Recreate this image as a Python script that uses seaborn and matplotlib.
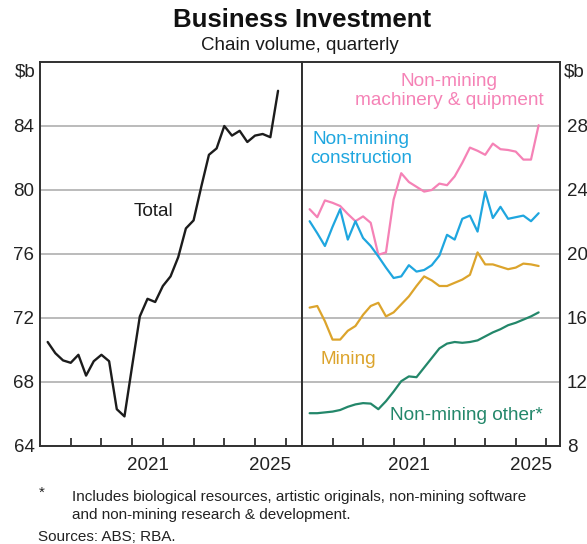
import numpy as np
import pandas as pd
import matplotlib
matplotlib.use("Agg")
import matplotlib.pyplot as plt
import seaborn as sns

# ---------------- data (quarterly, $b chain volume) ----------------
quarters = pd.period_range("2018Q1", "2025Q3", freq="Q")

total = [70.5, 69.8, 69.35, 69.2, 69.7, 68.4, 69.3, 69.7, 69.3, 66.3, 65.85,
         69.0, 72.1, 73.2, 73.0, 74.0, 74.6, 75.8, 77.6, 78.1, 80.2, 82.2,
         82.6, 84.0, 83.4, 83.7, 83.0, 83.4, 83.5, 83.3, 86.2]

machinery = [22.8, 22.3, 23.35, 23.2, 23.0, 22.5, 22.05, 22.35, 21.95, 19.95,
             20.1, 23.4, 25.05, 24.5, 24.2, 23.9, 24.0, 24.4, 24.3, 24.85,
             25.7, 26.65, 26.45, 26.2, 26.9, 26.55, 26.5, 26.4, 25.9, 25.9, 28.05]

construction = [22.05, 21.3, 20.5, 21.7, 22.8, 20.9, 22.05, 21.0, 20.5, 19.85,
                19.15, 18.5, 18.6, 19.3, 18.9, 19.0, 19.3, 19.9, 21.2, 20.9,
                22.2, 22.4, 21.4, 23.9, 22.25, 22.95, 22.2, 22.3, 22.4, 22.05, 22.55]

mining = [16.65, 16.75, 15.8, 14.65, 14.65, 15.2, 15.5, 16.2, 16.75, 16.95,
          16.1, 16.35, 16.85, 17.35, 18.0, 18.6, 18.35, 18.0, 18.0, 18.2,
          18.4, 18.7, 20.1, 19.35, 19.35, 19.2, 19.05, 19.15, 19.4, 19.35, 19.25]

other = [10.05, 10.05, 10.1, 10.15, 10.25, 10.45, 10.6, 10.68, 10.65, 10.3,
         10.8, 11.4, 12.05, 12.35, 12.3, 12.9, 13.5, 14.1, 14.4, 14.5,
         14.45, 14.5, 14.6, 14.85, 15.1, 15.3, 15.55, 15.7, 15.9, 16.1, 16.35]

left_yticks = [64, 68, 72, 76, 80, 84]
right_yticks = [8, 12, 16, 20, 24, 28]
year_labels = ["2021", "2025"]

series_names = ["Non-mining machinery & equipment", "Non-mining construction",
                "Mining", "Non-mining other"]
colors = {"Non-mining machinery & equipment": "#f582b6",
          "Non-mining construction": "#1fa6df",
          "Mining": "#dca42c",
          "Non-mining other": "#23876a"}

# quarter-end in decimal years
xq = [q.year + q.quarter * 0.25 for q in quarters]

df_left = pd.DataFrame({"date": xq, "value": total})
df_right = pd.concat([
    pd.DataFrame({"date": xq, "value": vals, "series": name})
    for name, vals in zip(series_names, [machinery, construction, mining, other])
], ignore_index=True)

# ---------------- style ----------------
sns.set_style("white")
plt.rcParams["font.family"] = ["Liberation Sans", "DejaVu Sans"]

W, H = 587, 544
fig = plt.figure(figsize=(W / 100, H / 100), dpi=100)


def fx(px):
    return px / W


def fy(py):
    return 1 - py / H


axL = fig.add_axes([fx(40), fy(446), fx(262), (446 - 62) / H])
axR = fig.add_axes([fx(302), fy(446), fx(258), (446 - 62) / H])

sns.lineplot(data=df_left, x="date", y="value", ax=axL, color="#1c1c1c",
             linewidth=1.7)
sns.lineplot(data=df_right, x="date", y="value", hue="series",
             hue_order=series_names, palette=colors, ax=axR, legend=False,
             linewidth=1.6)

tick_color = "#222222"
grid_color = "#b5b5b5"
spine_color = "#303030"

for ax, xmax in ((axL, 2026.53), (axR, 2026.45)):
    ax.set_xlim(2018.0, xmax)
    ax.set_xlabel("")
    ax.set_ylabel("")
    ax.set_xticks(list(range(2019, 2027)))
    ax.set_xticklabels([])
    ax.set_xticks([2021.5, 2025.5], minor=True)
    ax.set_xticklabels(year_labels, minor=True)
    ax.tick_params(axis="x", which="major", direction="in", length=6,
                   width=1.3, color=spine_color, bottom=True, top=False)
    ax.tick_params(axis="x", which="minor", length=0, pad=8,
                   labelsize=13.5, labelcolor=tick_color)
    ax.grid(axis="y", color=grid_color, linewidth=1.3)
    ax.grid(axis="x", visible=False)
    ax.set_axisbelow(True)
    for sp in ax.spines.values():
        sp.set_visible(True)
        sp.set_color(spine_color)
        sp.set_linewidth(1.4)

axL.set_ylim(64, 88)
axL.set_yticks(left_yticks)
axL.set_yticklabels([str(v) for v in left_yticks])
axL.tick_params(axis="y", length=0, pad=4, labelsize=13.5,
                labelcolor=tick_color)

axR.set_ylim(8, 32)
axR.set_yticks(right_yticks)
axR.set_yticklabels([str(v) for v in right_yticks])
axR.yaxis.tick_right()
axR.tick_params(axis="y", length=0, pad=5, labelsize=13.5,
                labelcolor=tick_color, left=False, labelleft=False,
                right=False, labelright=True)

# unit labels
fig.text(fx(36), fy(72), r"\$b", ha="right", va="center", fontsize=13.5,
         color=tick_color)
fig.text(fx(564), fy(72), r"\$b", ha="left", va="center", fontsize=13.5,
         color=tick_color)

# titles
fig.text(fx(302), fy(20), "Business Investment", ha="center", va="center",
         fontsize=18.5, fontweight="bold", color="#111111")
fig.text(fx(300), fy(46), "Chain volume, quarterly", ha="center",
         va="center", fontsize=13.5, color="#1a1a1a")

# series labels
lab = 13.7
fig.text(fx(153), fy(211), "Total", ha="center", va="center", fontsize=lab,
         color="#1c1c1c")
fig.text(fx(449), fy(91), "Non-mining\nmachinery & quipment", ha="center",
         va="center", fontsize=lab, color=colors[series_names[0]],
         linespacing=1.15)
fig.text(fx(361), fy(149), "Non-mining\nconstruction", ha="center",
         va="center", fontsize=lab, color=colors[series_names[1]],
         linespacing=1.15)
fig.text(fx(348), fy(359), "Mining", ha="center", va="center", fontsize=lab,
         color=colors[series_names[2]])
fig.text(fx(466), fy(415), "Non-mining other*", ha="center", va="center",
         fontsize=lab, color=colors[series_names[3]])

# footnotes
fig.text(fx(42), fy(493), "*", ha="center", va="center", fontsize=11,
         color="#222222")
fig.text(fx(72), fy(506), "Includes biological resources, artistic originals, "
         "non-mining software\nand non-mining research & development.",
         ha="left", va="center", fontsize=11, color="#222222",
         linespacing=1.3)
fig.text(fx(38), fy(537), "Sources: ABS; RBA.", ha="left", va="center",
         fontsize=11, color="#222222")

fig.savefig("out.png", dpi=100)
